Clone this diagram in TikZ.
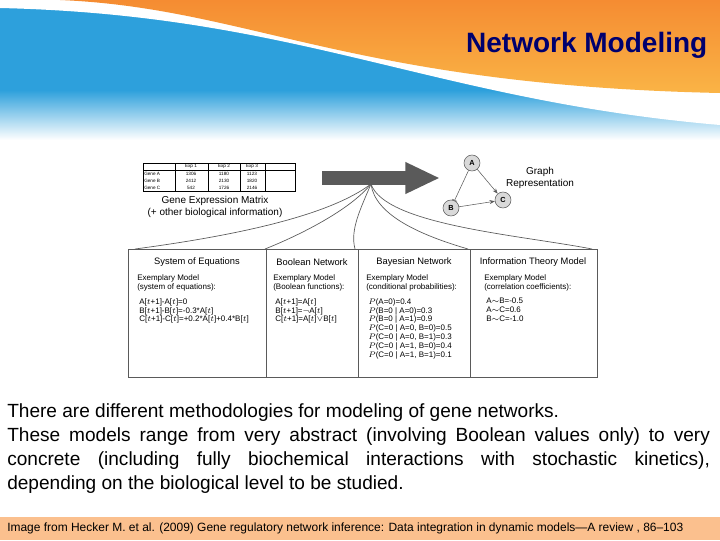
\documentclass[tikz,border=0pt]{standalone}
\usepackage{fontspec}
\setmainfont{Liberation Sans}
\usetikzlibrary{arrows.meta}
\definecolor{navy}{RGB}{0,0,110}
\definecolor{orng}{RGB}{245,140,50}
\definecolor{orngl}{RGB}{250,180,70}
\definecolor{sky}{RGB}{45,160,220}
\definecolor{foot}{RGB}{251,192,142}
\definecolor{gr}{RGB}{90,90,90}
\tikzset{tiny/.style={font=\fontsize{3.5}{4}\selectfont,inner sep=0},
 hd/.style={font=\fontsize{7}{8}\selectfont,inner sep=0},
 bt/.style={font=\fontsize{6}{6.7}\selectfont,inner sep=0,align=left,anchor=north west},
 gnode/.style={circle,draw=gr,fill=gray!30,minimum size=12pt,inner sep=0,font=\fontsize{5.5}{6}\selectfont\bfseries},
 cur/.style={draw=gr,line width=0.5pt}}
\begin{document}
\begin{tikzpicture}[x=0.75pt,y=-0.75pt]
\useasboundingbox (0,0) rectangle (720,540);
\fill[white] (0,0) rectangle (720,540);
% header
\fill[sky] (0,0) rectangle (720,90);
\shade[top color=sky,bottom color=white] (0,90) rectangle (720,140);
\fill[white] (0,0) -- (720,0) -- (720,125) .. controls (430,100) and (300,15) .. (0,8) -- cycle;
\shade[top color=orng,bottom color=orngl] (60,0) .. controls (250,8) and (350,85) .. (720,93) -- (720,0) -- cycle;
\node[anchor=east,font=\fontsize{21}{24}\selectfont\bfseries,text=navy] (title) at (712,45) {Network Modeling};
% table
\draw[line width=0.4pt] (143,163) rectangle (295,191);
\foreach \x in {175,208,240,265} \draw[line width=0.3pt] (\x,163) -- (\x,191);
\draw[line width=0.3pt] (143,170) -- (295,170);
\node[tiny] (e1) at (191,166.5) {Exp 1};
\node[tiny] (e2) at (224,166.5) {Exp 2};
\node[tiny] (e3) at (252,166.5) {Exp 3};
\node[tiny,anchor=west] (ga) at (144,173.5) {Gene A};
\node[tiny,anchor=west] (gb) at (144,180.5) {Gene B};
\node[tiny,anchor=west] (gc) at (144,187.5) {Gene C};
\node[tiny] at (191,173.5) {1306}; \node[tiny] at (224,173.5) {1180}; \node[tiny] at (252,173.5) {1123};
\node[tiny] at (191,180.5) {2412}; \node[tiny] at (224,180.5) {2130}; \node[tiny] at (252,180.5) {1820};
\node[tiny] at (191,187.5) {542}; \node[tiny] at (224,187.5) {1726}; \node[tiny] at (252,187.5) {2146};
\node[font=\fontsize{7.5}{9}\selectfont,align=center,inner sep=0] (gem) at (215,207) {Gene Expression Matrix\\(+ other biological information)};
% big arrow
\coordinate (as) at (322,178);
\coordinate (ae) at (440,178);
\draw[gr,line width=10pt,-{Triangle[length=26pt,width=22pt]}] (as) -- (ae);
% graph
\node[gnode] (A) at (472,163) {A};
\node[gnode] (B) at (451,208) {B};
\node[gnode] (C) at (503,200) {C};
\draw[gr,line width=0.4pt,-{Bar[width=4pt]}] (A) -- (B);
\draw[gr,line width=0.4pt,-{Stealth[length=4pt]}] (A) -- (C);
\draw[gr,line width=0.4pt,-{Stealth[length=4pt]}] (B) -- (C);
\node[font=\fontsize{7.5}{9}\selectfont,align=center,inner sep=0] (gr) at (540,178) {Graph\\Representation};
% curves
\coordinate (src) at (371,184);
\coordinate (t1) at (135,249);
\coordinate (t2) at (265,249);
\coordinate (t3) at (355,249);
\coordinate (t4) at (468,249);
\coordinate (t5) at (592,249);
\draw[cur] (src) .. controls (330,215) and (240,235) .. (t1);
\draw[cur] (src) .. controls (350,210) and (300,235) .. (t2);
\draw[cur] (src) .. controls (360,210) and (350,230) .. (t3);
\draw[cur] (src) .. controls (375,215) and (420,235) .. (t4);
\draw[cur] (src) .. controls (385,225) and (520,235) .. (t5);
% boxes
\draw[gr,line width=0.6pt] (128,249) rectangle (597,377);
\foreach \x in {266,358,470} \draw[gr,line width=0.6pt] (\x,249) -- (\x,377);
\node[hd] (h1) at (197,262) {System of Equations};
\node[hd] (h2) at (312,262) {Boolean Network};
\node[hd] (h3) at (414,262) {Bayesian Network};
\node[hd] (h4) at (533,262) {Information Theory Model};
\node[bt] (m1) at (137,274) {Exemplary Model\\(system of equations):};
\node[bt] (m2) at (273,274) {Exemplary Model\\(Boolean functions):};
\node[bt] (m3) at (366,274) {Exemplary Model\\(conditional probabilities):};
\node[bt] (m4) at (484,274) {Exemplary Model\\(correlation coefficients):};
\node[bt] (q1) at (139,298) {A[$t$+1]-A[$t$]=0\\B[$t$+1]-B[$t$]=-0.3*A[$t$]\\C[$t$+1]-C[$t$]=+0.2*A[$t$]+0.4*B[$t$]};
\node[bt] (q2) at (275,298) {A[$t$+1]=A[$t$]\\B[$t$+1]=$\neg$A[$t$]\\C[$t$+1]=A[$t$]$\vee$B[$t$]};
\node[bt] (q3) at (368,298) {$P$(A=0)=0.4\\$P$(B=0 | A=0)=0.3\\$P$(B=0 | A=1)=0.9\\$P$(C=0 | A=0, B=0)=0.5\\$P$(C=0 | A=0, B=1)=0.3\\$P$(C=0 | A=1, B=0)=0.4\\$P$(C=0 | A=1, B=1)=0.1};
\node[bt] (q4) at (486,298) {A$\sim$B=-0.5\\A$\sim$C=0.6\\B$\sim$C=-1.0};
% body text
\node[anchor=north west,inner sep=0,text width=527pt,align=justify,font=\fontsize{14.3}{18}\selectfont] (body) at (7,403) {There are different methodologies for modeling of gene networks.\\ These models range from very abstract (involving Boolean values only) to very\linebreak concrete (including fully biochemical interactions with stochastic kinetics),\linebreak depending on the biological level to be studied.};
% footer
\fill[foot] (0,517) rectangle (720,540);
\node[anchor=west,inner sep=0] (ft) at (7,528) {\resizebox{507pt}{!}{\fontsize{8}{9}\selectfont Image from Hecker M. et al. (2009) Gene regulatory network inference: Data integration in dynamic models---A review , 86--103}};
\end{tikzpicture}
\end{document}
